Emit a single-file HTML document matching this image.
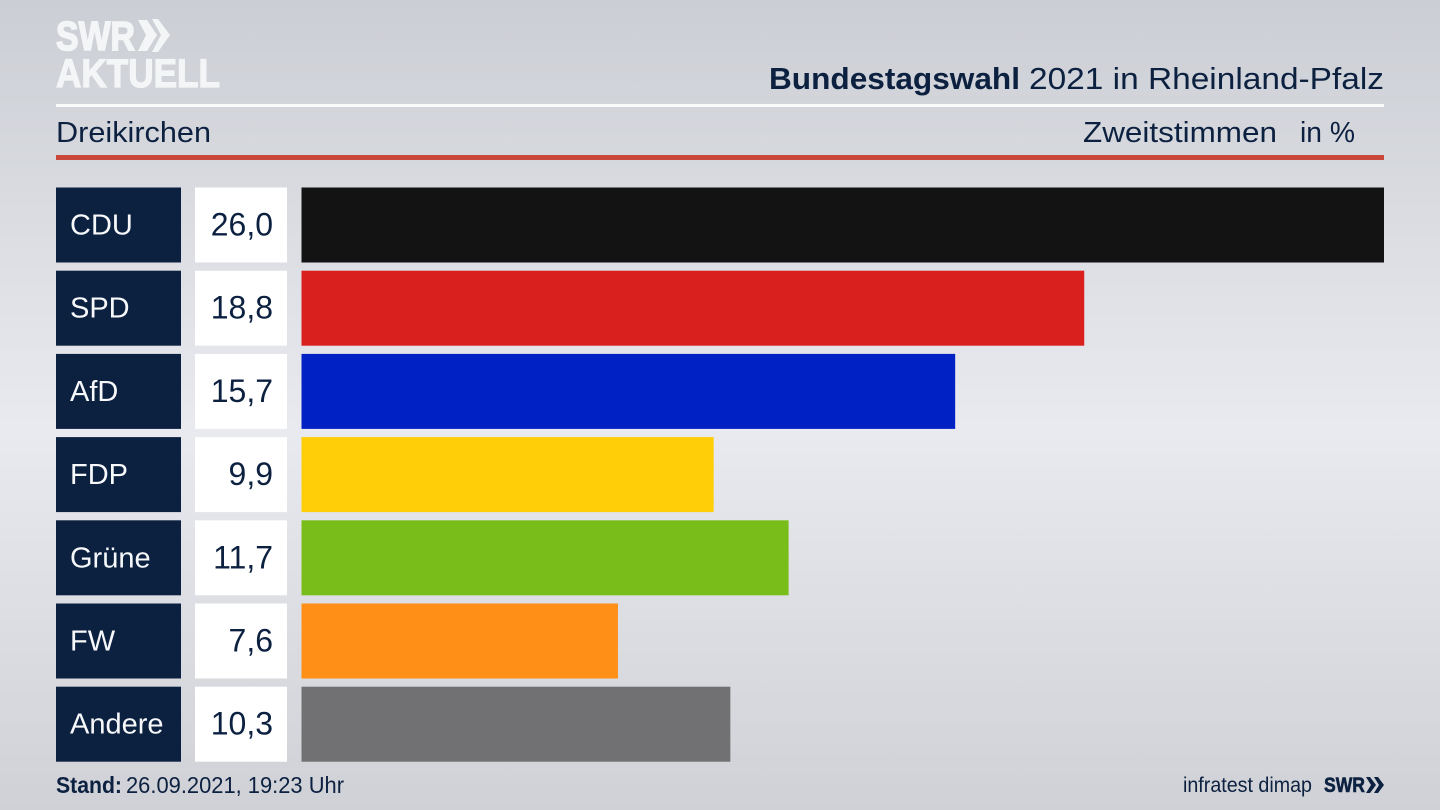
<!DOCTYPE html>
<html lang="de">
<head>
<meta charset="utf-8">
<title>Bundestagswahl 2021 in Rheinland-Pfalz – Dreikirchen</title>
<style>
html,body{margin:0;padding:0;width:1440px;height:810px;overflow:hidden;background:#d8dade}
svg{display:block}
text{font-family:"Liberation Sans",sans-serif}
</style>
</head>
<body>
<svg id="chart" width="1440" height="810" viewBox="0 0 1440 810" xmlns="http://www.w3.org/2000/svg">
  <defs>
    <linearGradient id="bg" x1="0" y1="0" x2="0" y2="1">
      <stop offset="0" stop-color="#cbced4"/>
      <stop offset="0.53" stop-color="#e9eaef"/>
      <stop offset="1" stop-color="#cfd1d6"/>
    </linearGradient>
  </defs>
  <rect width="1440" height="810" fill="url(#bg)"/>

  <g fill="#f4f5f6">
    <text x="56" y="50" font-size="41" font-weight="700" stroke="#f4f5f6" stroke-width="1.6" textLength="79" lengthAdjust="spacingAndGlyphs">SWR</text>
    <polygon points="138,20 147,20 157,35 147,51 138,51 146,35"/>
    <polygon points="152,19 158,19 170,35 158,52 152,52 161,35"/>
    <text x="56" y="87" font-size="40" font-weight="700" stroke="#f4f5f6" stroke-width="1.2" textLength="164" lengthAdjust="spacingAndGlyphs">AKTUELL</text>
  </g>

  <text x="769" y="89" font-size="31" font-weight="700" fill="#0c2040" textLength="251" lengthAdjust="spacingAndGlyphs">Bundestagswahl</text>
  <text x="1029" y="89" font-size="31" fill="#0c2040" textLength="355" lengthAdjust="spacingAndGlyphs">2021 in Rheinland-Pfalz</text>
  <rect x="56" y="104" width="1328" height="3" fill="#fbfbfc"/>
  <text x="56" y="142" font-size="29" fill="#0c2040" textLength="155" lengthAdjust="spacingAndGlyphs">Dreikirchen</text>
  <text x="1083" y="142" font-size="29" fill="#0c2040" textLength="194" lengthAdjust="spacingAndGlyphs">Zweitstimmen</text>
  <text x="1300" y="142" font-size="29" fill="#0c2040" textLength="55" lengthAdjust="spacingAndGlyphs">in %</text>
  <rect x="56" y="155" width="1328" height="5" fill="#c9483a"/>

  <g id="rows"></g>

  <text x="56" y="793" font-size="23" font-weight="700" fill="#0c2040" textLength="66" lengthAdjust="spacingAndGlyphs">Stand:</text>
  <text x="126" y="793" font-size="23" fill="#0c2040" textLength="218" lengthAdjust="spacingAndGlyphs">26.09.2021, 19:23 Uhr</text>
  <text x="1183" y="792" font-size="21" fill="#0c2040" textLength="129" lengthAdjust="spacingAndGlyphs">infratest dimap</text>
  <g fill="#0c2040">
    <text x="1324" y="792" font-size="21" font-weight="700" stroke="#0c2040" stroke-width="0.6" textLength="41" lengthAdjust="spacingAndGlyphs">SWR</text>
    <polygon points="1366,777 1370,777 1376,785 1370,793 1366,793 1371,785"/>
    <polygon points="1374,777 1378,777 1384,785 1378,793 1374,793 1379,785"/>
  </g>
</svg>
<script>
const parties = ["CDU", "SPD", "AfD", "FDP", "Grüne", "FW", "Andere"];
const shares = [26.0, 18.8, 15.7, 9.9, 11.7, 7.6, 10.3];
const barColors = ["#131313", "#d9201f", "#0022c4", "#ffce08", "#79bd1a", "#ff8f16", "#717173"];
const maxShare = 26.0;

const NS = "http://www.w3.org/2000/svg";
const rowsGroup = document.getElementById("rows");
const barLeft = 301.5;
const barRight = 1384;
const rowTop = 187.5;
const rowStep = 83.2;
const rowHeight = 75;

function xScale(v) {
  return (v / maxShare) * (barRight - barLeft);
}
function yScale(i) {
  return rowTop + i * rowStep;
}
function make(tag, attrs, text) {
  const el = document.createElementNS(NS, tag);
  for (const k in attrs) el.setAttribute(k, attrs[k]);
  if (text !== undefined) el.textContent = text;
  return el;
}

parties.forEach(function (party, i) {
  const y = yScale(i);
  const key = party.toLowerCase().replace("ü", "ue");

  const labelBox = make("rect", { x: 56, y: y, width: 125, height: rowHeight, fill: "#0c2040" });
  
  
  rowsGroup.appendChild(labelBox);

  const labelText = make("text", { x: 70, y: y + 47, "font-size": 29, fill: "#f7f8fa" }, party);
  
  
  rowsGroup.appendChild(labelText);

  const valueBox = make("rect", { x: 195, y: y, width: 92, height: rowHeight, fill: "#ffffff" });
  
  
  rowsGroup.appendChild(valueBox);

  const valueText = make("text", { x: 273, y: y + 48, "font-size": 32, fill: "#0c2040", "text-anchor": "end" }, shares[i].toFixed(1).replace(".", ","));
  
  
  rowsGroup.appendChild(valueText);

  const bar = make("rect", { x: barLeft, y: y, width: xScale(shares[i]), height: rowHeight, fill: barColors[i] });
  
  
  rowsGroup.appendChild(bar);
});
</script>
</body>
</html>
